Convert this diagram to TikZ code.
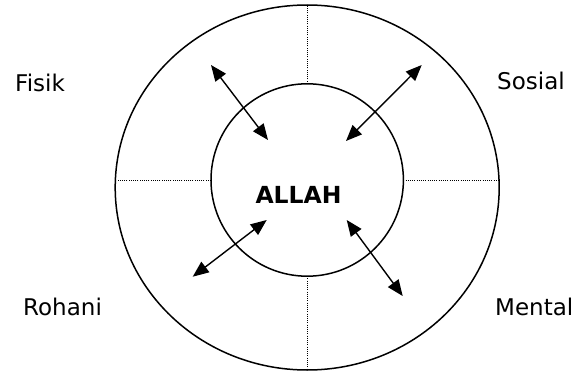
\documentclass[tikz,border=0pt]{standalone}
\usepackage{fontspec}
\setmainfont{DejaVu Sans}
\usetikzlibrary{arrows.meta,shapes.geometric}
\begin{document}
\begin{tikzpicture}[x=1pt,y=-1pt,
  ring/.style={draw,line width=1.5pt,inner sep=0pt,outer sep=0pt},
  divider/.style={line width=1pt,dash pattern=on 1pt off 1.2pt},
  link/.style={line width=1.4pt,{Triangle[length=16pt,width=13pt]}-{Triangle[length=16pt,width=13pt]}},
  lbl/.style={font=\fontsize{23}{26}\selectfont,inner sep=0pt,anchor=base west}]
\useasboundingbox (0,0) rectangle (579,372);
\node[ring,ellipse,minimum width=384pt,minimum height=365pt] (outer) at (307.2,187.5) {};
\node[ring,circle,minimum size=192.4pt] (inner) at (307.2,180) {};
\draw[divider] (inner.north) -- (outer.north);
\draw[divider] (inner.south) -- (outer.south);
\draw[divider] (inner.west) -- (inner.west -| outer.west);
\draw[divider] (inner.east) -- (inner.east -| outer.east);
\node[font=\bfseries\fontsize{23.5}{26}\selectfont,inner sep=0pt,anchor=base] (allah) at (298.5,203) {ALLAH};
\coordinate (tlA) at (211,65);  \coordinate (tlB) at (268,140);
\coordinate (trA) at (421.7,65); \coordinate (trB) at (346,141);
\coordinate (blA) at (266.7,220); \coordinate (blB) at (192.7,276.7);
\coordinate (brA) at (346.7,220); \coordinate (brB) at (402.7,296);
\draw[link] (tlA) -- (tlB);
\draw[link] (trA) -- (trB);
\draw[link] (blA) -- (blB);
\draw[link] (brA) -- (brB);
\node[lbl] (fisik) at (15,91) {Fisik};
\node[lbl] (sosial) at (497,89) {Sosial};
\node[lbl] (rohani) at (23,315) {Rohani};
\node[lbl] (mental) at (495,315) {Mental};
\end{tikzpicture}
\end{document}
